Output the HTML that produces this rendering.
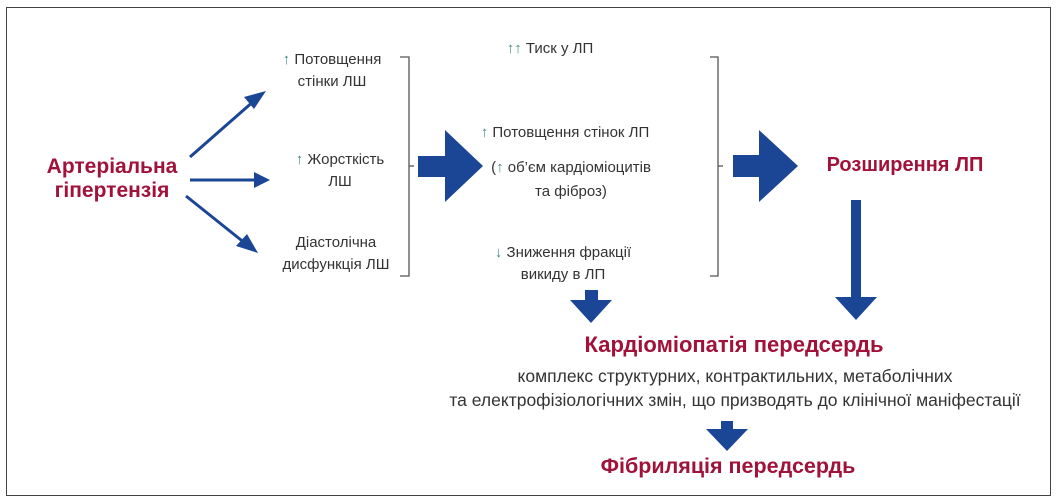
<!DOCTYPE html>
<html><head><meta charset="utf-8"><style>
body{margin:0;width:1061px;height:503px;background:#fff;overflow:hidden;position:relative;font-family:"Liberation Sans",sans-serif}
.f{position:absolute;left:6px;top:7px;width:1043px;height:487px;border:1.5px solid #444;}
.t{position:absolute;color:#333;font-size:15px;text-align:center;line-height:22px;white-space:nowrap;transform:translateX(-50%)}
.r{position:absolute;color:#a0123a;font-weight:bold;font-size:20px;line-height:24px;text-align:center;white-space:nowrap;transform:translateX(-50%);font-family:"Liberation Sans",sans-serif}
.g{color:#4a8a8a}
</style></head><body>
<div class="f"></div>
<svg width="1061" height="503" style="position:absolute;left:0;top:0">
<g stroke="#1b4595" stroke-width="3" fill="#1b4595">
<line x1="190" y1="157" x2="255" y2="100"/>
<line x1="190" y1="180" x2="258" y2="180"/>
<line x1="186" y1="196" x2="246" y2="244"/>
</g>
<g fill="#1b4595">
<polygon points="266,91 244,97 254,109"/>
<polygon points="270,180 254,172 254,188"/>
<polygon points="258,253 236,246 247,234"/>
<polygon points="418,156 445,156 445,130 483,166 445,202 445,177 418,177"/>
<polygon points="733,155 759,155 759,130 798,166 759,202 759,177 733,177"/>
<polygon points="851,200 861,200 861,297 877,297 856,320 835,297 851,297"/>
<polygon points="585,290 598,290 598,300 612,300 591,323 570,300 585,300"/>
<polygon points="721,421 733,421 733,429 748,429 727,451 706,429 721,429"/>
</g>
<g stroke="#555" stroke-width="1.3" fill="none">
<polyline points="400,57 409,57 409,276 400,276"/>
<line x1="409" y1="166" x2="414" y2="166"/>
<polyline points="710,57 718,57 718,276 710,276"/>
<line x1="718" y1="166" x2="723" y2="166"/>
</g>
</svg>
<div class="r" style="left:112px;top:155px;font-size:21px">Артеріальна<br>гіпертензія</div>
<div class="t" style="left:332px;top:49px"><span class="g">↑</span> Потовщення<br>стінки ЛШ</div>
<div class="t" style="left:340px;top:149px"><span class="g">↑</span> Жорсткість<br>ЛШ</div>
<div class="t" style="left:336px;top:232px">Діастолічна<br>дисфункція ЛШ</div>
<div class="t" style="left:550px;top:38px"><span class="g">↑↑</span> Тиск у ЛП</div>
<div class="t" style="left:565px;top:122px"><span class="g">↑</span> Потовщення стінок ЛП</div>
<div class="t" style="left:571px;top:156px;line-height:24px">(<span class="g">↑</span> об’єм кардіоміоцитів<br>та фіброз)</div>
<div class="t" style="left:563px;top:242px"><span class="g">↓</span> Зниження фракції<br>викиду в ЛП</div>
<div class="r" style="left:905px;top:153px">Розширення ЛП</div>
<div class="r" style="left:734px;top:333px;font-size:22px">Кардіоміопатія передсердь</div>
<div class="t" style="left:735px;top:364px;font-size:17.5px;line-height:24px">комплекс структурних, контрактильних, метаболічних<br>та електрофізіологічних змін, що призводять до клінічної маніфестації</div>
<div class="r" style="left:728px;top:454px;font-size:21.5px">Фібриляція передсердь</div>
</body></html>
